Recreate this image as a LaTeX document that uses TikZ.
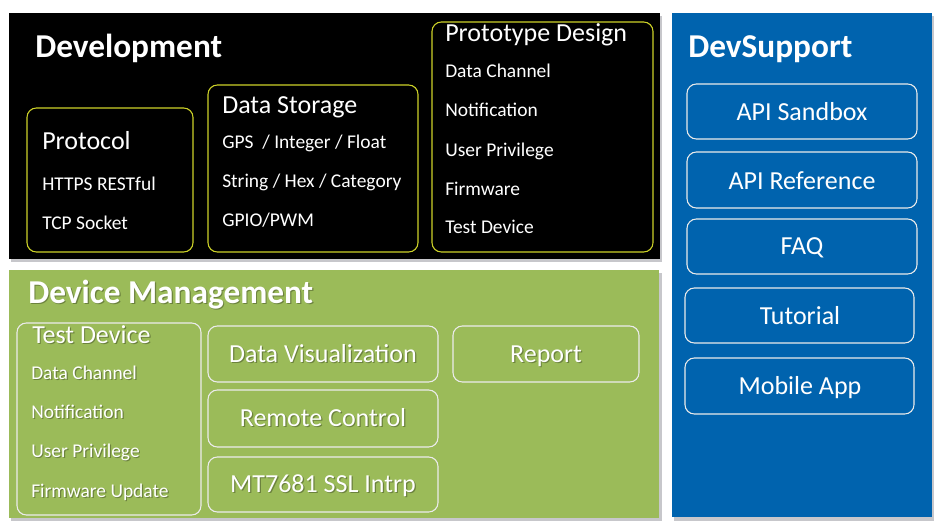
\documentclass[tikz,border=0pt]{standalone}
\usepackage{fontspec}
\setmainfont{Carlito}
\definecolor{devblack}{RGB}{0,0,0}
\definecolor{mgmtgreen}{RGB}{155,187,89}
\definecolor{supportblue}{RGB}{0,99,174}
\definecolor{boxyellow}{RGB}{205,210,40}
\definecolor{panelshade}{RGB}{185,185,190}
\newcommand\pxfont[1]{\fontsize{#1}{#1}\selectfont}
\tikzset{
  panel/.style={draw=none},
  shade/.style={fill=panelshade, opacity=0.8},
  ybox/.style={draw=boxyellow, line width=0.8pt, rounded corners=7pt},
  wbox/.style={draw=white!92!black, line width=0.8pt, rounded corners=7pt},
  txt/.style={inner sep=0pt, text=white, anchor=base west},
  ctxt/.style={inner sep=0pt, text=white, anchor=base},
  head/.style={txt, font=\pxfont{25pt}\bfseries},
  sub/.style={txt, font=\pxfont{19.5pt}},
  item/.style={txt, font=\pxfont{14.6pt}},
  btxt/.style={ctxt, font=\pxfont{19.5pt}},
}
% text with a soft dark drop shadow (used on the green panel)
\newcommand\shtext[4]{%
  \node[#2, text=black, opacity=0.3, xshift=0.9pt, yshift=-0.9pt] (#1-sh) at #3 {#4};
  \node[#2] (#1) at #3 {#4};}
\begin{document}
\begin{tikzpicture}[x=0.75pt, y=-0.75pt]
\useasboundingbox (0,0) rectangle (941,529);
\fill[white] (0,0) rectangle (941,529);

% drop shadows of the three panels
\fill[shade] (11,16) rectangle (662,262);
\fill[shade] (11,273) rectangle (662,521);
\fill[shade] (674,16) rectangle (934,521);

% panels
\fill[devblack] (9,13) rectangle (660,259);
\fill[mgmtgreen] (9,270) rectangle (659,518);
\fill[supportblue] (672,13) rectangle (932,517);

% ---------------- Development ----------------
\node[head] (dev) at (35,57) {Development};

\draw[ybox] (27,108) rectangle (193,252);
\node[sub] (proto) at (42,149) {Protocol};
\node[item] (https) at (42,190) {HTTPS RESTful};
\node[item] (tcp) at (42,229) {TCP Socket};

\draw[ybox] (208,85) rectangle (418,252);
\node[sub] (store) at (222,113) {Data Storage};
\node[item] (gps) at (222,148) {GPS\ \ / Integer / Float};
\node[item] (str) at (222,187) {String / Hex / Category};
\node[item] (gpio) at (222,226) {GPIO/PWM};

\draw[ybox] (432,22) rectangle (653,252);
\node[sub] (pdesign) at (445,41) {Prototype Design};
\node[item] (pd1) at (445,77) {Data Channel};
\node[item] (pd2) at (445,116) {Notification};
\node[item] (pd3) at (445,156) {User Privilege};
\node[item] (pd4) at (445,195) {Firmware};
\node[item] (pd5) at (445,233) {Test Device};

% ---------------- Device Management ----------------
\shtext{mgmt}{head}{(28,303)}{Device Management}

\draw[wbox] (17,323) rectangle (201,515);
\shtext{tdev}{sub}{(32,343)}{Test Device}
\shtext{td1}{item}{(31,379)}{Data Channel}
\shtext{td2}{item}{(31,418)}{Notification}
\shtext{td3}{item}{(31,457)}{User Privilege}
\shtext{td4}{item}{(31,497)}{Firmware Update}

\draw[wbox] (208,326) rectangle (438,382);
\shtext{vis}{btxt}{(323,362)}{Data Visualization}
\draw[wbox] (208,390) rectangle (438,447);
\shtext{rc}{btxt}{(323,426)}{Remote Control}
\draw[wbox] (208,457) rectangle (438,512);
\shtext{ssl}{btxt}{(323,492)}{MT7681 SSL Intrp}
\draw[wbox] (453,326) rectangle (639,382);
\shtext{rep}{btxt}{(546,362)}{Report}

% ---------------- DevSupport ----------------
\node[head] (sup) at (688,57) {DevSupport};
\draw[wbox] (687,84) rectangle (917,139);
\node[btxt] (sandbox) at (802,120) {API Sandbox};
\draw[wbox] (687,152) rectangle (917,208);
\node[btxt] (apiref) at (802,189) {API Reference};
\draw[wbox] (687,219) rectangle (917,274);
\node[btxt] (faq) at (802,254) {FAQ};
\draw[wbox] (685,288) rectangle (914,343);
\node[btxt] (tut) at (800,324) {Tutorial};
\draw[wbox] (685,358) rectangle (914,414);
\node[btxt] (mob) at (800,394) {Mobile App};
\end{tikzpicture}
\end{document}
